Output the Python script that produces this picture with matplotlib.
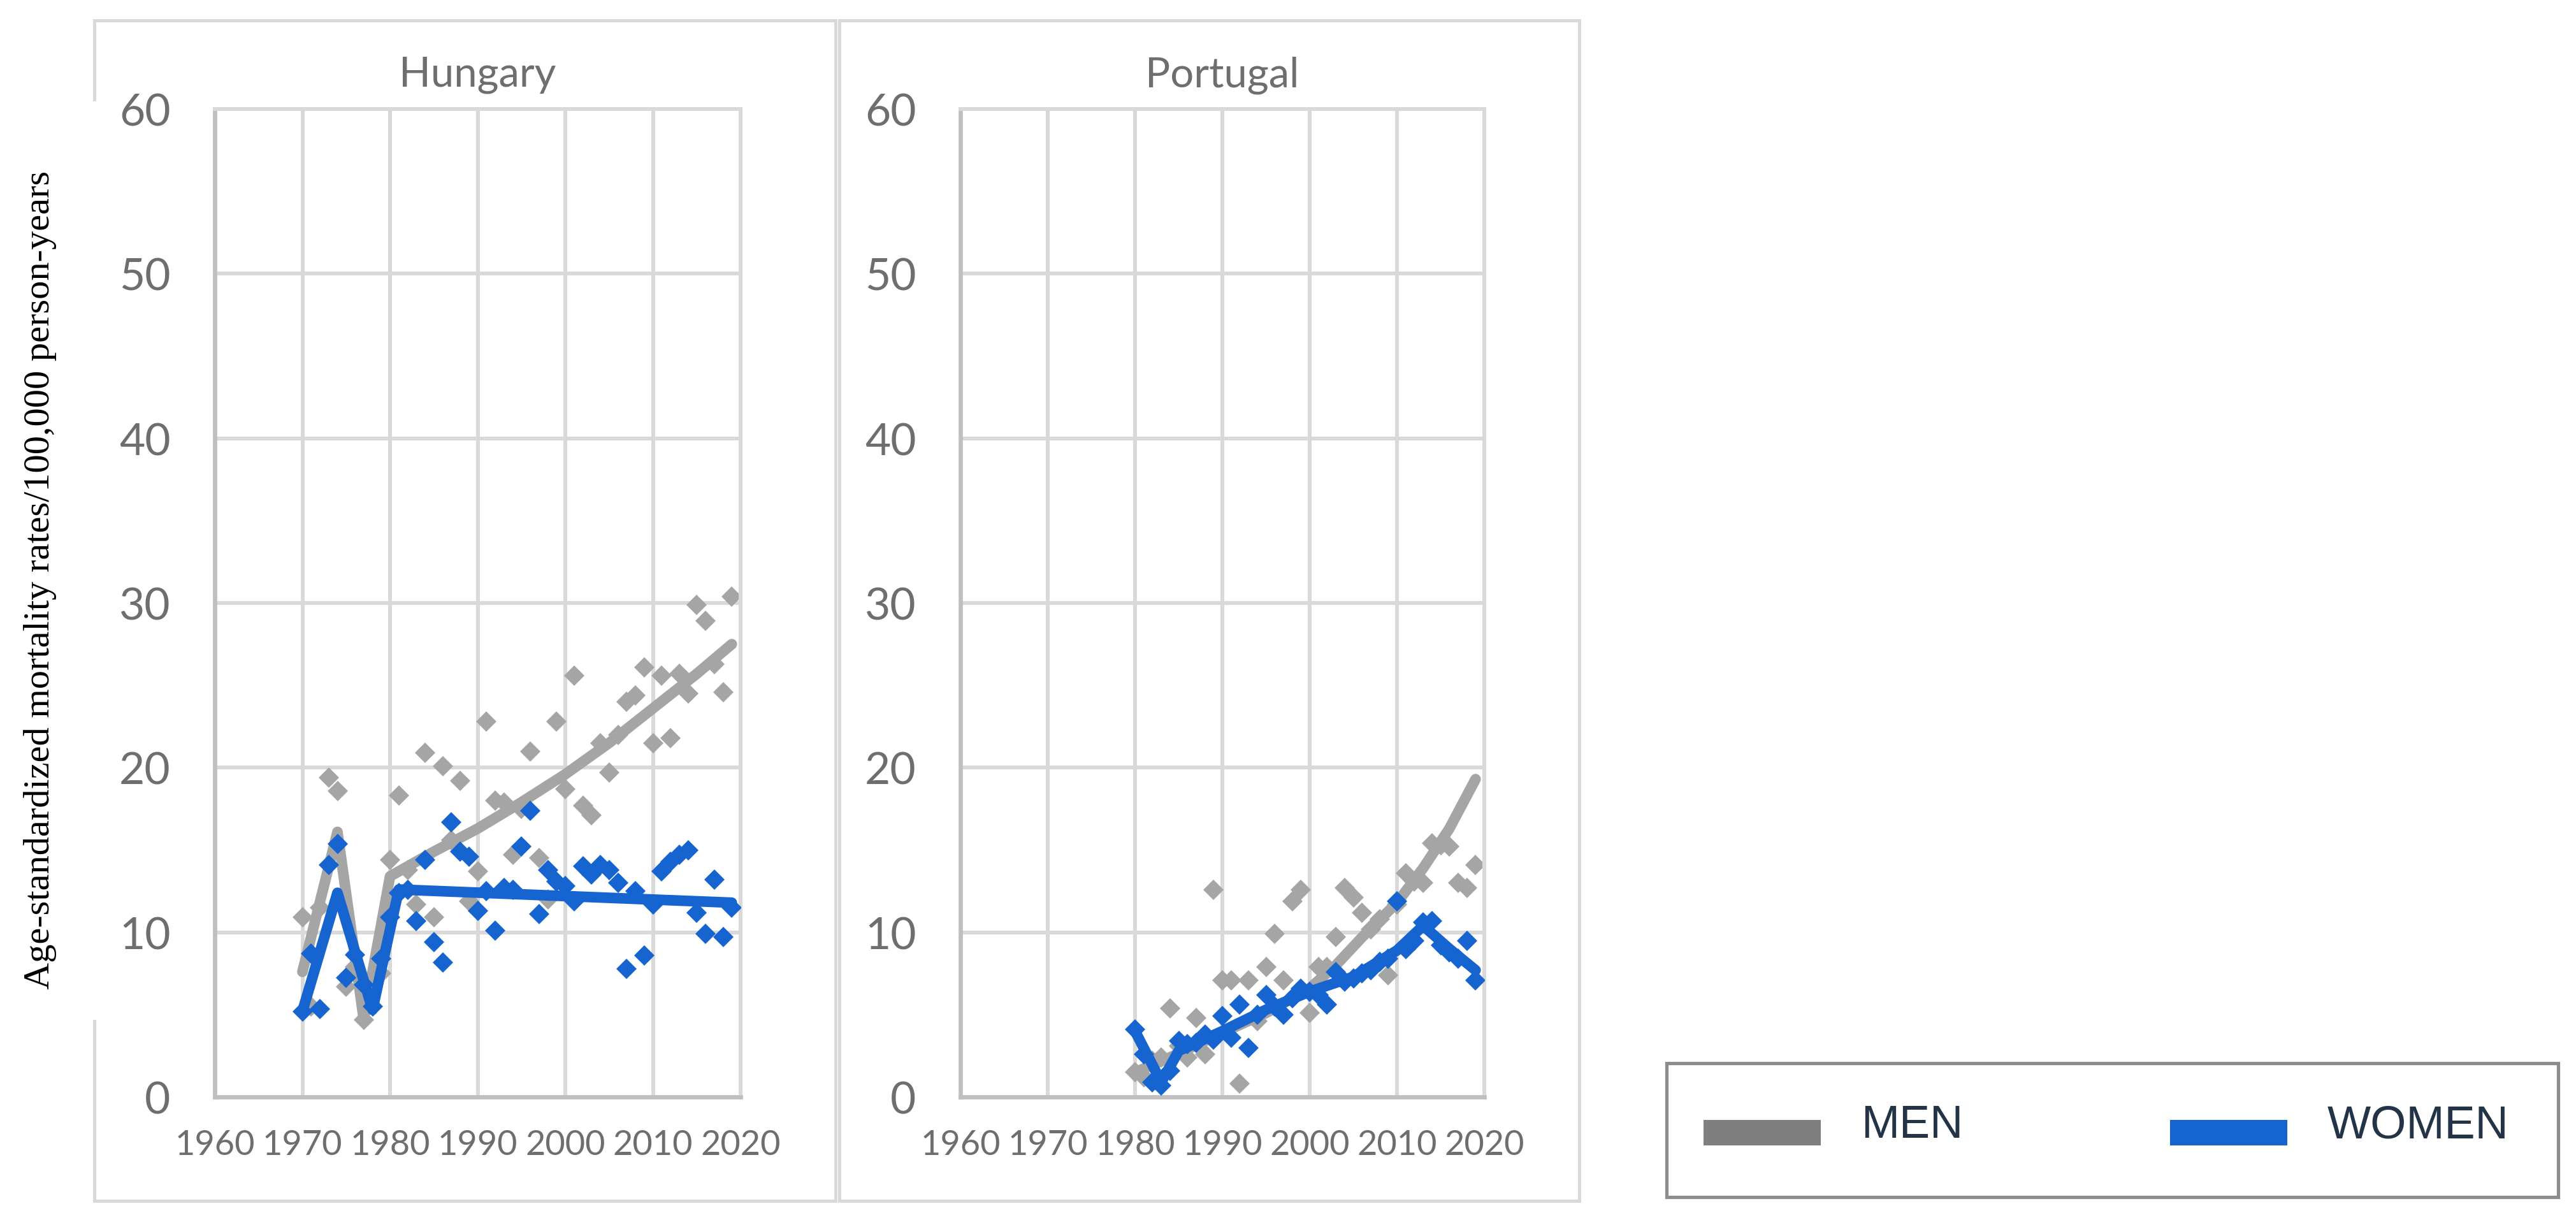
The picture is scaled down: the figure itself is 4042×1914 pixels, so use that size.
import matplotlib
matplotlib.use("Agg")
import matplotlib.pyplot as plt
from matplotlib.lines import Line2D
from matplotlib.patches import Rectangle
from matplotlib import font_manager

W, H = 4042, 1915

# ---------------- data ----------------
hu_years = list(range(1970, 2020))
hu_men = [10.9, 5.5, 11.5, 19.4, 18.6, 6.7, 7.9, 4.7, 6.8, 7.5,
          14.4, 18.3, 13.8, 11.7, 20.9, 10.9, 20.1, 15.6, 19.2, 11.9,
          13.7, 22.8, 18.0, 17.9, 14.7, 17.5, 21.0, 14.5, 12.0, 22.8,
          18.7, 25.6, 17.7, 17.1, 21.5, 19.7, 22.0, 24.0, 24.4, 26.1,
          21.5, 25.6, 21.8, 25.7, 24.5, 29.9, 28.9, 26.3, 24.6, 30.4]
hu_women = [5.2, 8.7, 5.35, 14.1, 15.35, 7.25, 8.65, 6.8, 5.5, 8.4,
            10.9, 12.4, 12.6, 10.7, 14.4, 9.4, 8.15, 16.7, 14.9, 14.6,
            11.3, 12.5, 10.1, 12.7, 12.6, 15.2, 17.4, 11.1, 13.8, 13.1,
            12.8, 11.9, 14.0, 13.5, 14.1, 13.8, 13.0, 7.8, 12.5, 8.6,
            11.7, 13.7, 14.3, 14.7, 15.0, 11.2, 9.9, 13.2, 9.7, 11.5]
hu_men_fit_years = [1970, 1974, 1977, 1980, 1985, 1990, 1995, 2000, 2005, 2010, 2015, 2019]
hu_men_fit = [7.6, 16.1, 4.7, 13.4, 14.9, 16.3, 17.9, 19.6, 21.5, 23.6, 25.7, 27.5]
hu_women_fit_years = [1970, 1974, 1978, 1981, 2019]
hu_women_fit = [5.2, 12.4, 5.3, 12.6, 11.8]

pt_years = list(range(1980, 2020))
pt_men = [1.5, 1.2, 2.2, 2.4, 5.4, 3.1, 2.4, 4.8, 2.6, 12.6,
          7.1, 7.1, 0.8, 7.1, 4.6, 7.9, 9.9, 7.1, 11.9, 12.6,
          5.1, 7.9, 7.9, 9.7, 12.7, 12.1, 11.2, 10.2, 10.8, 7.4,
          11.7, 13.6, 13.1, 13.0, 15.4, 15.3, 15.2, 13.0, 12.7, 14.1]
pt_women = [4.1, 2.6, 0.9, 0.7, 1.6, 3.4, 3.2, 3.3, 3.8, 3.5,
            4.9, 3.6, 5.6, 3.0, 5.0, 6.2, 5.5, 5.0, 6.0, 6.6,
            6.4, 6.2, 5.6, 7.6, 7.0, 7.2, 7.5, 7.7, 8.2, 8.4,
            11.9, 9.0, 9.5, 10.6, 10.7, 9.2, 8.8, 8.4, 9.5, 7.1]
pt_men_fit_years = [1980, 1984, 1990, 1995, 2000, 2003, 2006, 2010, 2013, 2016, 2019]
pt_men_fit = [1.5, 2.4, 3.9, 5.1, 6.6, 8.0, 9.7, 11.8, 13.9, 16.3, 19.3]
pt_women_fit_years = [1980, 1983, 1985, 1990, 1995, 2000, 2005, 2010, 2013, 2016, 2019]
pt_women_fit = [4.0, 0.9, 2.8, 4.0, 5.3, 6.4, 7.3, 8.9, 10.4, 9.0, 7.7]

x_ticks = [1960, 1970, 1980, 1990, 2000, 2010, 2020]
y_ticks = [0, 10, 20, 30, 40, 50, 60]
legend_labels = ["MEN", "WOMEN"]
ylabel_text = "Age-standardized mortality rates/100,000 person-years"

panels = [
    ("Hungary", hu_years, hu_men, hu_women, hu_men_fit_years, hu_men_fit,
     hu_women_fit_years, hu_women_fit),
    ("Portugal", pt_years, pt_men, pt_women, pt_men_fit_years, pt_men_fit,
     pt_women_fit_years, pt_women_fit),
]

# ---------------- style ----------------
GRAY = "#a5a5a5"
BLUE = "#1664d0"
GRID = "#d9d9d9"
SPINE = "#bfbfbf"
TXT = "#6e6e6e"
plt.rcParams['font.family'] = ['Lato', 'DejaVu Sans']

fig = plt.figure(figsize=(W / 100, H / 100), dpi=100)

def fx(px):
    return px / W

def fy(py):
    return 1 - py / H

axes_px = [(337, 1162), (1507, 2329)]
top_px, bot_px = 172, 1722

for (name, yrs, men, women, mfy, mf, wfy, wf), (l, r) in zip(panels, axes_px):
    ax = fig.add_axes([fx(l), fy(bot_px), (r - l) / W, (bot_px - top_px) / H])
    ax.set_xlim(1960, 2020)
    ax.set_ylim(0, 60)
    ax.set_xticks(x_ticks)
    ax.set_yticks(y_ticks)
    ax.grid(True, color=GRID, lw=4.3, zorder=0)
    ax.set_axisbelow(True)
    for s in ["top", "right"]:
        ax.spines[s].set_color(GRID)
        ax.spines[s].set_linewidth(4.3)
    for s in ["left", "bottom"]:
        ax.spines[s].set_color(SPINE)
        ax.spines[s].set_linewidth(4.8)
    ax.tick_params(axis='both', length=0, colors=TXT)
    ax.tick_params(axis='y', labelsize=50, pad=50)
    ax.tick_params(axis='x', labelsize=39, pad=36)

    ax.plot(yrs, men, ls='none', marker='D', ms=16, mew=0, color=GRAY, zorder=2)
    ax.plot(mfy, mf, color=GRAY, lw=12, solid_capstyle='round',
            solid_joinstyle='round', zorder=3)
    ax.plot(wfy, wf, color=BLUE, lw=12, solid_capstyle='round',
            solid_joinstyle='round', zorder=4)
    ax.plot(yrs, women, ls='none', marker='D', ms=16, mew=0, color=BLUE, zorder=5)

    ax.text(0.5, (bot_px - 118) / (bot_px - top_px), name, transform=ax.transAxes,
            ha='center', va='center', fontsize=47, color=TXT)

# ---------------- chart frames ----------------
FR = dict(color=GRID, lw=3.6, transform=fig.transFigure)
def hline(x0, x1, y, **kw):
    fig.add_artist(Line2D([fx(x0), fx(x1)], [fy(y), fy(y)], **kw))
def vline(x, y0, y1, **kw):
    fig.add_artist(Line2D([fx(x), fx(x)], [fy(y0), fy(y1)], **kw))

# Hungary frame (left edge hidden behind the axis title box)
hline(148, 1311, 33, **FR)
hline(148, 1311, 1885, **FR)
vline(1311, 33, 1885, **FR)
vline(148, 33, 157, **FR)
vline(148, 1603, 1885, **FR)
# Portugal frame
hline(1317, 2478, 33, **FR)
hline(1317, 2478, 1885, **FR)
vline(1317, 33, 1885, **FR)
vline(2478, 33, 1885, **FR)

# y axis title
fig.text(fx(63), fy(910), ylabel_text, rotation=90, ha='center', va='center',
         fontsize=42, color='black', family=['Liberation Serif', 'DejaVu Serif'])

# ---------------- legend ----------------
names = {f.name for f in font_manager.fontManager.ttflist}
if 'Liberation Sans Narrow' in names:
    lfam, lsize = 'Liberation Sans Narrow', 60
else:
    lfam, lsize = 'Liberation Sans', 52

fig.add_artist(Rectangle((fx(2615), fy(1879)), fx(4014) - fx(2615), fy(1669) - fy(1879),
                         transform=fig.transFigure, facecolor='white',
                         edgecolor='#8c8c8c', lw=3.8))
sw = [(2673, "#7f7f7f"), (3405, BLUE)]
tx = [2920, 3652]
for (sx, c), t, lab in zip(sw, tx, legend_labels):
    fig.add_artist(Rectangle((fx(sx), fy(1798)), fx(184), 40 / H,
                             transform=fig.transFigure, facecolor=c, edgecolor='none'))
    fig.text(fx(t), fy(1767), lab, ha='left', va='center', fontsize=lsize,
             color='#243447', family=[lfam, 'DejaVu Sans'])

fig.savefig("out.png", dpi=100, facecolor='white')
